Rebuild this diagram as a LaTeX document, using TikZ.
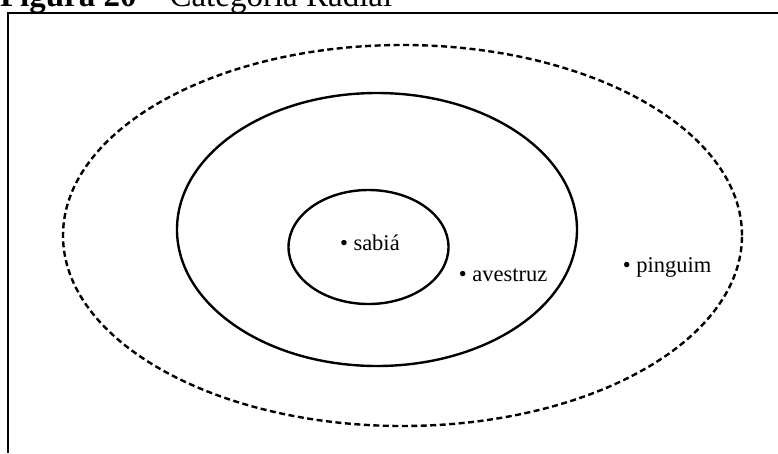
\documentclass[tikz,border=0pt]{standalone}
\usepackage{fontspec}
\setmainfont{Liberation Serif}
\usetikzlibrary{shapes.geometric}
\begin{document}
\begin{tikzpicture}[x=1pt, y=-1pt,
    every node/.style={inner sep=0pt, outer sep=0pt},
    region/.style={ellipse, draw, line width=2.4pt},
    periphery/.style={region, dash pattern=on 6pt off 3.5pt},
    member/.style={anchor=base west, font=\fontsize{22.5}{26}\selectfont}]
  \useasboundingbox (0,0) rectangle (778,453);
  % frame and caption
  \coordinate (tr) at (778,13);
  \coordinate (tl) at (8,13);
  \coordinate (bl) at (8,453);
  \draw[line width=2.5pt] (tr) -- (tl) -- (bl);
  \node[anchor=base west, font=\fontsize{33}{38}\selectfont] (caption) at (0,6)
    {\textbf{Figura 20} – Categoria Radial};
  % categories
  \node[periphery, minimum width=679pt, minimum height=381pt] (outer) at (402.5,235.5) {};
  \node[region, minimum width=400pt, minimum height=273pt] (middle) at (377,229.5) {};
  \node[region, minimum width=160pt, minimum height=114pt] (core) at (368.5,247) {};
  % members
  \node[member] (sabia) at (340,250) {\textbullet\ sabiá};
  \node[member] (avestruz) at (458.8,281) {\textbullet\ avestruz};
  \node[member] (pinguim) at (622.8,272) {\textbullet\ pinguim};
\end{tikzpicture}
\end{document}
